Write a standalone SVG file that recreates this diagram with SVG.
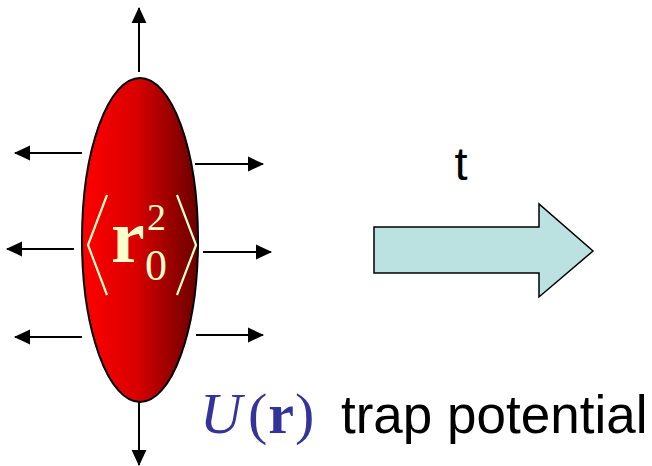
<svg xmlns="http://www.w3.org/2000/svg" width="652" height="466" viewBox="0 0 652 466">
<defs>
<linearGradient id="red" x1="0" y1="0" x2="1" y2="0">
<stop offset="0" stop-color="#FF0000"/>
<stop offset="0.45" stop-color="#DA0000"/>
<stop offset="1" stop-color="#6A0000"/>
</linearGradient>
<marker id="ah" markerWidth="8" markerHeight="8" refX="7.5" refY="4" orient="auto" markerUnits="strokeWidth" viewBox="0 0 8 8">
<path d="M0,0.3 L8,4 L0,7.7 Z" fill="#000"/>
</marker>
<style>
.ar{stroke:#000;stroke-width:2;fill:none;marker-end:url(#ah)}
.cream{fill:#FFFFCC;font-family:"Liberation Serif","Times New Roman",serif}
</style>
</defs>
<g id="connectors">
<line class="ar" x1="139" y1="72" x2="139" y2="8"/>
<line class="ar" x1="139" y1="401" x2="139" y2="465"/>
<line class="ar" x1="82" y1="153" x2="15" y2="153"/>
<line class="ar" x1="74" y1="249" x2="7" y2="249"/>
<line class="ar" x1="82" y1="337" x2="15" y2="337"/>
<line class="ar" x1="195" y1="164" x2="263" y2="164"/>
<line class="ar" x1="203" y1="252" x2="271" y2="252"/>
<line class="ar" x1="196" y1="335" x2="263" y2="335"/>
</g>
<g id="cloud">
<ellipse cx="140" cy="240" rx="58" ry="162" fill="url(#red)" stroke="#000" stroke-width="2"/>
<polyline points="107,195 88,245 107,295" fill="none" stroke="#FFFFCC" stroke-width="2.2"/>
<polyline points="177,195 196,245 177,295" fill="none" stroke="#FFFFCC" stroke-width="2.2"/>
<text class="cream" x="111" y="262" font-size="76" font-weight="bold">r</text>
<text class="cream" x="145" y="280" font-size="44">0</text>
<text class="cream" x="147" y="230" font-size="38">2</text>
</g>
<g id="time-arrow">
<path d="M374,227 L539,227 L539,204 L593,251 L539,297 L539,273 L374,273 Z" fill="#BCE1E1" stroke="#000" stroke-width="1.5"/>
<text x="461" y="180" font-family="Liberation Sans, Arial, sans-serif" font-size="47" text-anchor="middle">t</text>
</g>
<g id="trap-label">
<text x="200" y="433" font-family="Liberation Serif, Times New Roman, serif" font-size="58" fill="#333399"><tspan font-style="italic">U</tspan><tspan dx="6">(</tspan><tspan dx="1" font-weight="bold">r</tspan><tspan dx="1">)</tspan></text>
<text x="341" y="433" font-family="Liberation Sans, Arial, sans-serif" font-size="53" fill="#000">trap potential</text>
</g>
</svg>
